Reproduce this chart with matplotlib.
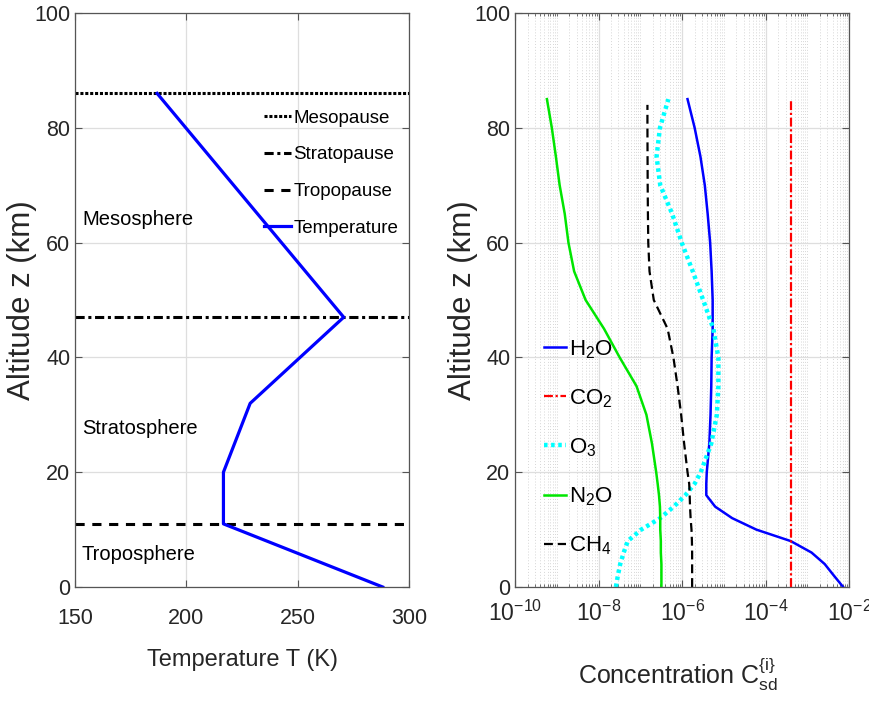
import matplotlib
matplotlib.use("Agg")
import matplotlib.pyplot as plt
from matplotlib.ticker import FixedLocator, LogLocator, NullFormatter, LogFormatterSciNotation

FONT = 'Liberation Sans'
plt.rcParams['font.family'] = [FONT, 'DejaVu Sans']
plt.rcParams['mathtext.fontset'] = 'custom'
plt.rcParams['mathtext.rm'] = FONT
plt.rcParams['mathtext.it'] = FONT + ':italic'
plt.rcParams['mathtext.bf'] = FONT + ':bold'

# ---------------- data ----------------
temp_alt = [0, 11, 20, 32, 47, 86]
temp_K = [288.15, 216.65, 216.65, 228.65, 270.65, 186.87]
layer_names = ['Mesopause', 'Stratopause', 'Tropopause']
layer_alt = [86, 47, 11]
region_names = ['Mesosphere', 'Stratosphere', 'Troposphere']
region_alt = [64, 27.7, 5.6]

z = [0, 2, 4, 6, 8, 10, 12, 14, 16, 18, 20, 25, 30, 35, 40, 45, 50, 55, 60, 65, 70, 75, 80, 85]
h2o = [7.2e-3, 4.3e-3, 2.6e-3, 1.26e-3, 4.0e-4, 6.0e-5, 1.58e-5, 6.2e-6, 3.8e-6, 3.8e-6, 3.9e-6,
       4.5e-6, 4.8e-6, 5.0e-6, 5.1e-6, 5.4e-6, 5.4e-6, 5.1e-6, 4.7e-6, 4.1e-6, 3.5e-6, 2.75e-6,
       2.0e-6, 1.35e-6]
o3 = [2.6e-8, 2.9e-8, 3.3e-8, 4.0e-8, 5.0e-8, 1.05e-7, 3.0e-7, 6.3e-7, 1.2e-6, 2.0e-6, 2.8e-6,
      5.0e-6, 6.8e-6, 7.4e-6, 7.4e-6, 5.6e-6, 3.2e-6, 1.8e-6, 9.8e-7, 5.8e-7, 3.0e-7, 2.45e-7,
      2.95e-7, 4.7e-7]
n2o = [3.2e-7, 3.2e-7, 3.2e-7, 3.1e-7, 3.1e-7, 3.0e-7, 3.0e-7, 2.95e-7, 2.8e-7, 2.6e-7, 2.4e-7,
       1.9e-7, 1.4e-7, 8.1e-8, 3.2e-8, 1.35e-8, 4.9e-9, 2.6e-9, 1.9e-9, 1.55e-9, 1.17e-9, 9.5e-10,
       7.6e-10, 5.8e-10]
z_ch4 = [0, 2, 4, 6, 8, 10, 12, 14, 16, 18, 20, 25, 30, 35, 40, 45, 50, 55, 60, 65, 70, 75, 80, 84]
ch4 = [1.74e-6, 1.74e-6, 1.74e-6, 1.74e-6, 1.72e-6, 1.68e-6, 1.6e-6, 1.55e-6, 1.52e-6, 1.48e-6,
       1.35e-6, 1.12e-6, 9.5e-7, 7.8e-7, 6.2e-7, 4.5e-7, 2.1e-7, 1.66e-7, 1.55e-7, 1.52e-7,
       1.5e-7, 1.49e-7, 1.48e-7, 1.48e-7]
z_co2 = [0, 85]
co2 = [4.0e-4, 4.0e-4]

TXT = '#262626'
GRID = '#dedede'

fig = plt.figure(figsize=(8.7, 7.08), dpi=100)
ax1 = fig.add_axes([0.0862, 0.1709, 0.384, 0.8107])
ax2 = fig.add_axes([0.592, 0.1709, 0.384, 0.8107])

def style(ax):
    ax.set_axisbelow(True)
    for s in ax.spines.values():
        s.set_color('#555555')
        s.set_linewidth(0.9)
    ax.tick_params(which='both', direction='in', top=True, right=True, colors='#555555',
                   labelcolor=TXT, labelsize=15.5)
    ax.tick_params(which='major', length=5, width=0.8)
    ax.tick_params(which='minor', length=2.5, width=0.6)
    ax.set_ylim(0, 100)
    ax.set_yticks([0, 20, 40, 60, 80, 100])
    ax.grid(True, which='major', color=GRID, linewidth=0.9)

# ---------------- left panel ----------------
style(ax1)
ax1.set_xlim(150, 300)
ax1.set_xticks([150, 200, 250, 300])
ax1.tick_params(axis='x', pad=15)
styles = [dict(linestyle=(0, (1, 0.6))), dict(linestyle=(0, (3, 1.2, 1, 1.2))), dict(linestyle=(0, (3, 2.5)))]
for nm, a, st in zip(layer_names, layer_alt, styles):
    ax1.axhline(a, color='k', linewidth=2.2, label=nm, **st)
ax1.plot(temp_K, temp_alt, color='#0000ff', linewidth=2.3, label='Temperature')
for nm, a in zip(region_names, region_alt):
    ax1.text(153.1, a, nm, fontsize=14.5, color='k', ha='left', va='center')
leg1 = ax1.legend(loc='upper right', bbox_to_anchor=(0.99, 0.845), frameon=False, fontsize=13.5,
                  handlelength=1.45, handletextpad=0.12, labelspacing=1.05, borderaxespad=0.0)
ax1.set_xlabel('Temperature T (K)', fontsize=17, color=TXT, va='center')
ax1.xaxis.set_label_coords(0.5, -0.127)
ax1.set_ylabel('Altitude z (km)', fontsize=22.5, color=TXT, va='center')
ax1.yaxis.set_label_coords(-0.16, 0.5)

# ---------------- right panel ----------------
style(ax2)
ax2.set_xscale('log')
ax2.set_xlim(1e-10, 1e-2)
ax2.xaxis.set_major_locator(FixedLocator([1e-10, 1e-8, 1e-6, 1e-4, 1e-2]))
ax2.xaxis.set_major_formatter(LogFormatterSciNotation())
ax2.xaxis.set_minor_locator(LogLocator(base=10, subs=tuple(range(1, 10)), numticks=100))
ax2.xaxis.set_minor_formatter(NullFormatter())
ax2.grid(True, which='minor', axis='x', color='#d6d6d6', linestyle=(0, (1, 2)), linewidth=0.7)
ax2.tick_params(axis='x', pad=10, labelsize=16.5)

ax2.plot(h2o, z, color='#0000ff', linewidth=1.8, label=r'H$_2$O')
ax2.plot(co2, z_co2, color='#ff0000', linewidth=1.6, linestyle=(0, (4, 1.2, 1, 1.2)), label=r'CO$_2$')
ax2.plot(o3, z, color='#00ffff', linewidth=3.2, linestyle=(0, (0.8, 0.8)), label=r'O$_3$')
ax2.plot(n2o, z, color='#00e600', linewidth=1.8, label=r'N$_2$O')
ax2.plot(ch4, z_ch4, color='k', linewidth=1.6, linestyle=(0, (4, 2.2)), label=r'CH$_4$')
leg2 = ax2.legend(loc='upper left', bbox_to_anchor=(0.06, 0.449), frameon=False, fontsize=16,
                  handlelength=1.0, handletextpad=0.12, labelspacing=1.19, borderaxespad=0.0)
ax2.set_xlabel(r'Concentration $\mathrm{C}_{\mathrm{sd}}^{\{\mathrm{i}\}}$', fontsize=18,
               color=TXT, va='center')
ax2.xaxis.set_label_coords(0.488, -0.152)
ax2.set_ylabel('Altitude z (km)', fontsize=22.5, color=TXT, va='center')
ax2.yaxis.set_label_coords(-0.157, 0.5)

fig.savefig('out.png', dpi=100)
